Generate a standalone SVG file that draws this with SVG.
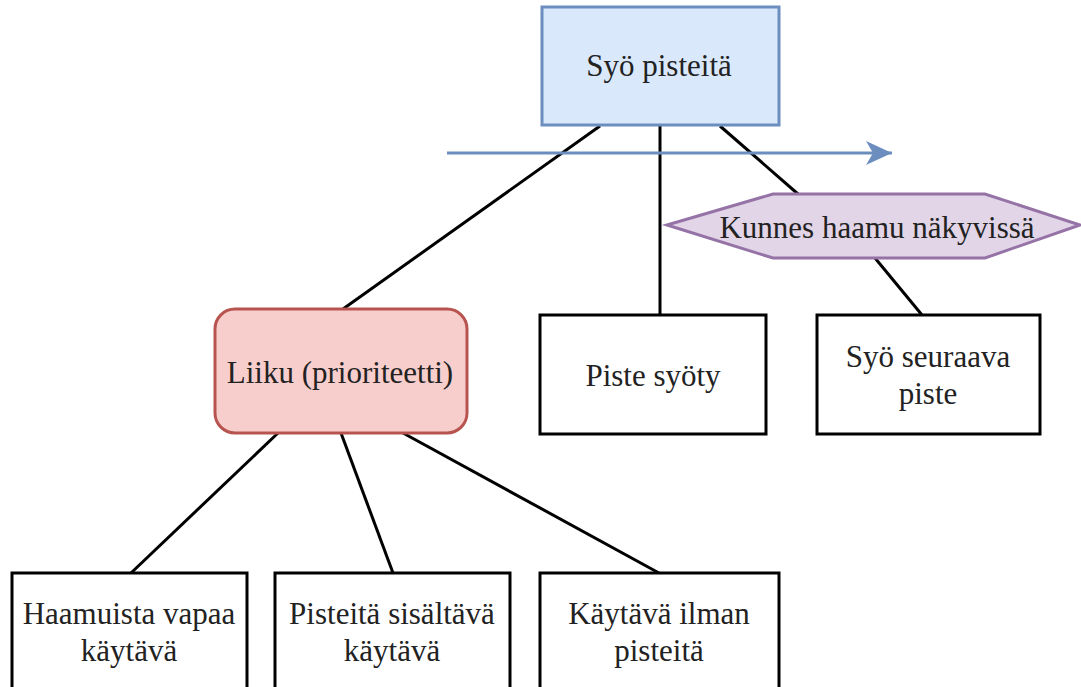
<svg xmlns="http://www.w3.org/2000/svg" width="1081" height="687" viewBox="0 0 1081 687">
  <defs>
    <marker id="order-head" viewBox="0 0 26 24" refX="26" refY="12" markerWidth="26" markerHeight="24" markerUnits="userSpaceOnUse" orient="auto">
      <path d="M26,12 L0,0 L7,12 L0,24 Z" fill="#6c8ebf"/>
    </marker>
  </defs>
  <rect width="1081" height="687" fill="#ffffff"/>

  <!-- tree edges -->
  <g id="connectors" fill="none" stroke="#000000" stroke-width="3">
    <line x1="600" y1="126" x2="343" y2="309"/>
    <line x1="660" y1="126" x2="660" y2="315"/>
    <line x1="720" y1="126" x2="798" y2="194"/>
    <line x1="875" y1="258" x2="922" y2="315"/>
    <line x1="278" y1="433" x2="131" y2="573"/>
    <line x1="341" y1="433" x2="393" y2="573"/>
    <line x1="403" y1="433" x2="659" y2="573"/>
    <!-- order arrow -->
    <line x1="447" y1="153" x2="892" y2="153" stroke="#6c8ebf" marker-end="url(#order-head)"/>
  </g>

  <g id="root">
    <rect x="542" y="7" width="237" height="118" fill="#dae8fc" stroke="#6c8ebf" stroke-width="3"/>
    <text x="659" y="76" font-family="Liberation Serif" font-size="31" fill="#222222" text-anchor="middle">Syö pisteitä</text>
  </g>

  <g id="move">
    <rect x="215" y="309" width="252" height="124" rx="20" fill="#f8cecc" stroke="#b85450" stroke-width="3"/>
    <text x="340" y="383" font-family="Liberation Serif" font-size="31" fill="#222222" text-anchor="middle">Liiku (prioriteetti)</text>
  </g>

  <g id="eaten">
    <rect x="540" y="315" width="226" height="119" fill="#ffffff" stroke="#000000" stroke-width="3"/>
    <text x="653" y="386" font-family="Liberation Serif" font-size="31" fill="#222222" text-anchor="middle">Piste syöty</text>
  </g>

  <g id="ghost-visible">
    <polygon points="667,225 773,194 985,194 1080,225 985,258 773,258" fill="#e1d5e7" stroke="#9673a6" stroke-width="3"/>
    <text x="877" y="238" font-family="Liberation Serif" font-size="31" fill="#222222" text-anchor="middle">Kunnes haamu näkyvissä</text>
  </g>

  <g id="eat-next">
    <rect x="817" y="315" width="223" height="119" fill="#ffffff" stroke="#000000" stroke-width="3"/>
    <text x="928" y="367" font-family="Liberation Serif" font-size="31" fill="#222222" text-anchor="middle">Syö seuraava</text>
    <text x="928" y="404" font-family="Liberation Serif" font-size="31" fill="#222222" text-anchor="middle">piste</text>
  </g>

  <g id="ghost-free">
    <rect x="12" y="573" width="235" height="125" fill="#ffffff" stroke="#000000" stroke-width="3"/>
    <text x="129" y="624" font-family="Liberation Serif" font-size="31" fill="#222222" text-anchor="middle">Haamuista vapaa</text>
    <text x="129" y="661" font-family="Liberation Serif" font-size="31" fill="#222222" text-anchor="middle">käytävä</text>
  </g>

  <g id="with-dots">
    <rect x="275" y="573" width="235" height="125" fill="#ffffff" stroke="#000000" stroke-width="3"/>
    <text x="392" y="624" font-family="Liberation Serif" font-size="31" fill="#222222" text-anchor="middle">Pisteitä sisältävä</text>
    <text x="392" y="661" font-family="Liberation Serif" font-size="31" fill="#222222" text-anchor="middle">käytävä</text>
  </g>

  <g id="no-dots">
    <rect x="540" y="573" width="239" height="125" fill="#ffffff" stroke="#000000" stroke-width="3"/>
    <text x="659" y="624" font-family="Liberation Serif" font-size="31" fill="#222222" text-anchor="middle">Käytävä ilman</text>
    <text x="659" y="661" font-family="Liberation Serif" font-size="31" fill="#222222" text-anchor="middle">pisteitä</text>
  </g>
</svg>
